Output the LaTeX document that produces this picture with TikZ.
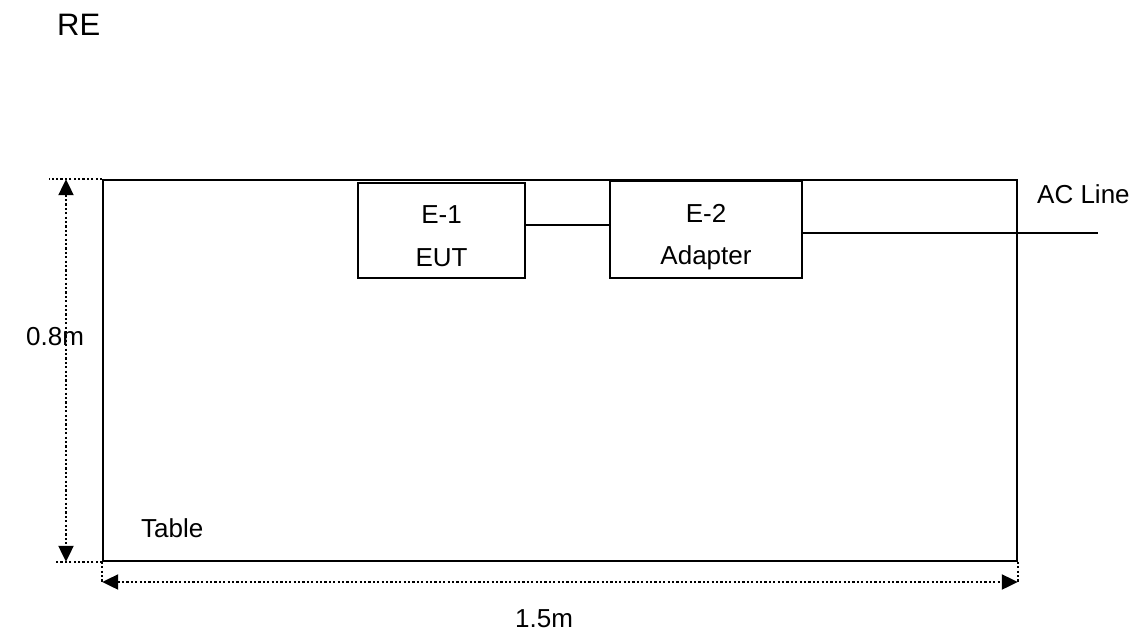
\documentclass[tikz,border=0pt]{standalone}
\usepackage{fontspec}
\setmainfont{Liberation Sans}
\usetikzlibrary{positioning,arrows.meta,calc}
\newcommand{\diafont}{\fontsize{26}{43}\selectfont}

\begin{document}
\begin{tikzpicture}[x=1pt, y=-1pt,
    tablebox/.style={draw, line width=1.6pt, minimum width=914pt,
                     minimum height=381pt, inner sep=0pt},
    unit/.style={draw, line width=1.5pt, inner sep=0pt},
    lbl/.style={font=\diafont, inner sep=0pt},
    ext/.style={line width=2.2pt, dash pattern=on 2.2pt off 2.2pt},
    dim/.style={ext, {Triangle[length=16pt,width=15pt]}-{Triangle[length=16pt,width=15pt]}},
    wire/.style={line width=1.3pt},
  ]
  \useasboundingbox (0,0) rectangle (1144,641);
  % table and equipment
  \node[tablebox] (tbl) at (560,370.5) {};
  \node[unit, minimum width=167pt, minimum height=95pt] (eut) at (441.5,230.5) {};
  \node[unit, minimum width=192pt, minimum height=97pt] (adp) at (706,229.5) {};
  \node[lbl, anchor=base] (eutid) at (441.5,223) {E-1};
  \node[lbl, anchor=base] (eutname) at (441.5,266) {EUT};
  \node[lbl, anchor=base] (adpid) at (706,222) {E-2};
  \node[lbl, anchor=base] (adpname) at (706,264) {Adapter};
  \draw[wire] ([yshift=5.5pt]eut.east) -- ([yshift=5.5pt]eut.east -| adp.west);
  \coordinate (acend) at (1098,233);
  \draw[wire] (adp.east |- acend) -- (acend);
  % labels
  \node[lbl, anchor=base west, font=\fontsize{31}{36}\selectfont] (re) at (57,35) {RE};
  \node[lbl, anchor=base west] (acl) at (1037,203) {AC Line};
  \node[lbl, anchor=base west] (tlbl) at (141,537) {Table};
  \node[lbl, anchor=base west] (hgt) at (26,345) {0.8m};
  \node[lbl, anchor=base west] (wid) at (515,627) {1.5m};
  % dimensions
  \coordinate (vx) at (66,0);
  \coordinate (hy) at (0,582);
  \draw[ext] (tbl.north west) -- ++(-53,0);
  \draw[ext] (tbl.south west) -- ++(-48,0);
  \draw[ext] (tbl.south west) -- (tbl.south west |- hy);
  \draw[ext] (tbl.south east) -- (tbl.south east |- hy);
  \draw[dim] (tbl.north west -| vx) -- (tbl.south west -| vx);
  \draw[dim] (tbl.south west |- hy) -- (tbl.south east |- hy);
\end{tikzpicture}
\end{document}
